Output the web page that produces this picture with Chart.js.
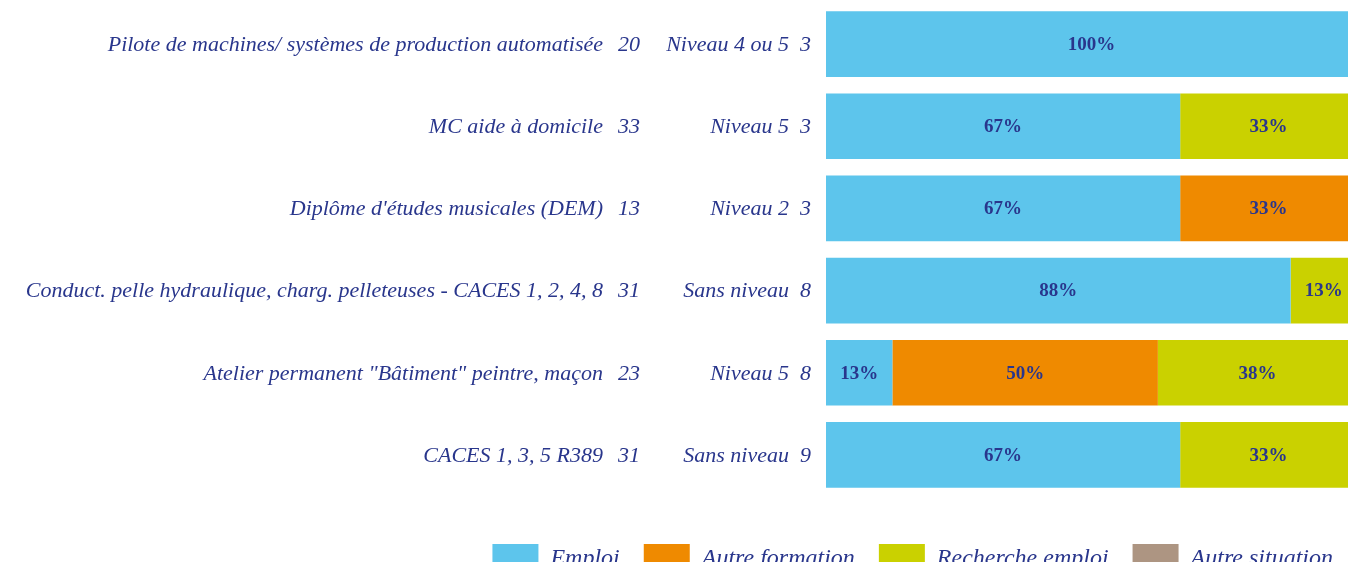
<!DOCTYPE html>
<html>
<head>
<meta charset="utf-8">
<script src="https://cdn.jsdelivr.net/npm/chart.js@4"></script>
<style>
  html, body { margin: 0; padding: 0; background: #fff; overflow: hidden; }
  #wrap { width: 1360px; height: 584px; }
</style>
</head>
<body>
<div id="wrap"><canvas id="chart"></canvas></div>
<script>
// --- Data ---
const formations = [
  'Pilote de machines/ systèmes de production automatisée',
  'MC aide à domicile',
  "Diplôme d'études musicales (DEM)",
  'Conduct. pelle hydraulique, charg. pelleteuses - CACES 1, 2, 4, 8',
  'Atelier permanent "Bâtiment" peintre, maçon',
  'CACES 1, 3, 5 R389'
];
const formationCounts = [20, 33, 13, 31, 23, 31];
const levels = ['Niveau 4 ou 5', 'Niveau 5', 'Niveau 2', 'Sans niveau', 'Niveau 5', 'Sans niveau'];
const respondents = [3, 3, 3, 8, 8, 9];

const seriesNames = ['Emploi', 'Autre formation', 'Recherche emploi', 'Autre situation'];
const emploi = [100, 66.7, 66.7, 87.5, 12.5, 66.7];
const autreFormation = [0, 0, 33.3, 0, 50, 0];
const rechercheEmploi = [0, 33.3, 0, 12.5, 37.5, 33.3];
const autreSituation = [0, 0, 0, 0, 0, 0];
const seriesColors = ['#5DC5EC', '#EF8A00', '#CAD100', '#AD9582'];

const navy = '#29368C';
const serif = "'Liberation Serif', 'DejaVu Serif', serif";

// --- Left label columns ---
const rowLabels = {
  id: 'rowLabels',
  afterDraw(chart) {
    const ctx = chart.ctx;
    const y = chart.scales.y;
    ctx.save();
    ctx.fillStyle = navy;
    ctx.font = `italic 22px ${serif}`;
    ctx.textAlign = 'right';
    ctx.textBaseline = 'middle';
    formations.forEach((name, i) => {
      const py = y.getPixelForValue(i) + 1;
      ctx.fillText(name, 603, py);
      ctx.fillText(String(formationCounts[i]), 640, py);
      ctx.fillText(levels[i], 789, py);
      ctx.fillText(String(respondents[i]), 811, py);
    });
    ctx.restore();
  }
};

// --- Values inside bars ---
const barValues = {
  id: 'barValues',
  afterDatasetsDraw(chart) {
    const ctx = chart.ctx;
    ctx.save();
    ctx.fillStyle = navy;
    ctx.font = `bold 19px ${serif}`;
    ctx.textAlign = 'center';
    ctx.textBaseline = 'middle';
    chart.data.datasets.forEach((ds, di) => {
      chart.getDatasetMeta(di).data.forEach((bar, i) => {
        const v = ds.data[i];
        if (!v) return;
        const cx = (bar.x + bar.base) / 2;
        ctx.fillText(Math.round(v) + '%', cx, bar.y + 1);
      });
    });
    ctx.restore();
  }
};

const seriesData = [emploi, autreFormation, rechercheEmploi, autreSituation];

new Chart(document.getElementById('chart'), {
  type: 'bar',
  data: {
    labels: formations,
    datasets: seriesNames.map((name, k) => ({
      label: name,
      data: seriesData[k],
      backgroundColor: seriesColors[k],
      borderWidth: 0,
      categoryPercentage: 1,
      barPercentage: 0.8
    }))
  },
  options: {
    indexAxis: 'y',
    responsive: true,
    maintainAspectRatio: false,
    animation: false,
    layout: { padding: { left: 0, right: 3, top: 3, bottom: 0 } },
    plugins: {
      tooltip: { enabled: false },
      legend: {
        position: 'bottom',
        align: 'end',
        // empty title only adds space above the legend row
        title: { display: true, text: '', padding: 0, font: { size: 20 } },
        labels: {
          boxWidth: 46,
          boxHeight: 30,
          padding: 24,
          color: navy,
          font: { family: serif, size: 24, style: 'italic' }
        }
      }
    },
    scales: {
      x: {
        stacked: true,
        min: 0,
        max: 100,
        display: false
      },
      y: {
        stacked: true,
        ticks: { display: false },
        grid: { display: false },
        border: { display: false },
        afterFit(scale) { scale.width = 826; }
      }
    }
  },
  plugins: [rowLabels, barValues]
});
</script>
</body>
</html>
